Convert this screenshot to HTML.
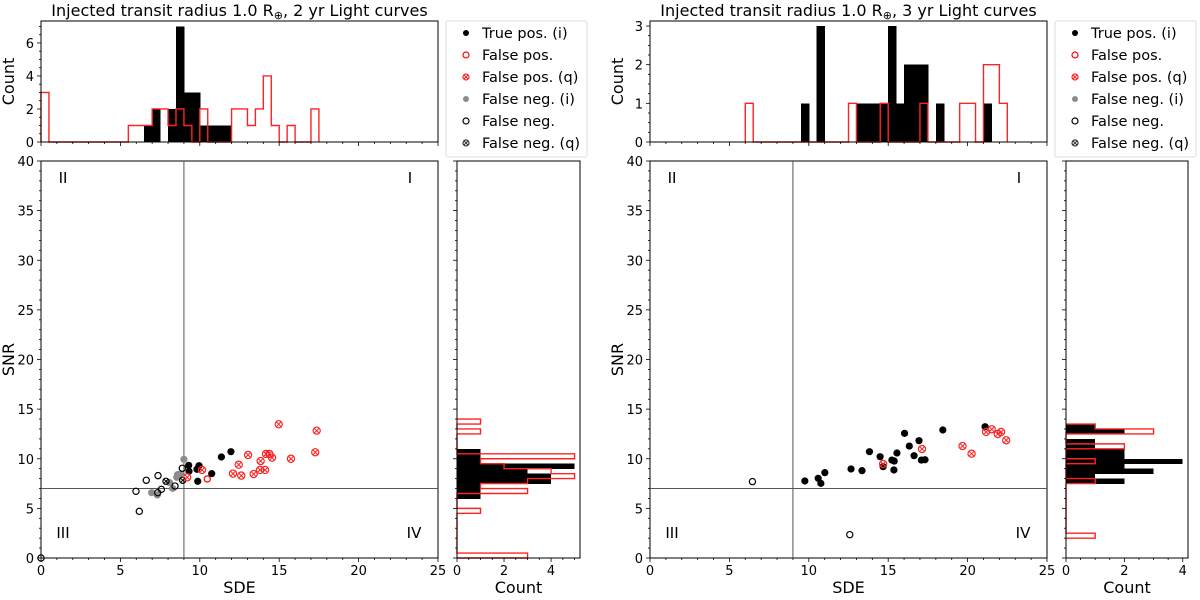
<!DOCTYPE html>
<html><head><meta charset="utf-8">
<style>
body{margin:0;background:#fff;}
svg text{font-family:"DejaVu Sans","Liberation Sans",sans-serif;fill:#000;}
</style></head>
<body>
<svg id="chart" width="1200" height="595" viewBox="0 0 1200 595" xmlns="http://www.w3.org/2000/svg"></svg>
<script>
// ---------- DATA ----------
const BIN = 0.5;
// Left panel (2 yr)
const L_topRedStart = 0;
const L_topRedCounts = [3,0,0,0,0,0,0,0,0,0,0,1,1,1,2,2,1,2,1,0,2,0,0,0,2,2,1,2,4,1,0,1,0,0,2];
const L_topBlackStart = 6.5;
const L_topBlackCounts = [1,2,0,2,7,3,3,1,1,1,1];
const L_sideRedStart = 0;
const L_sideRedCounts = [3,0,0,0,0,0,0,0,0,1,0,0,0,3,1,3,5,4,2,1,5,0,0,0,0,1,0,1];
const L_sideBlackStart = 6.0;
const L_sideBlackCounts = [1,1,1,4,4,3,5,1,1,1];
const L_truePosSDE = [11.96,11.36,9.30,9.95,9.82,9.32,10.75,9.87];
const L_truePosSNR = [10.71,10.18,9.34,9.30,8.94,8.74,8.50,7.73];
const L_falsePosSDE = [10.47];
const L_falsePosSNR = [7.96];
const L_falsePosQSDE = [14.97,17.36,17.27,13.04,14.17,14.38,14.55,13.83,15.74,12.45,10.14,9.21,12.09,12.61,13.39,13.79,14.11];
const L_falsePosQSNR = [13.47,12.83,10.65,10.38,10.48,10.48,10.11,9.77,10.00,9.40,8.87,8.13,8.50,8.30,8.46,8.87,8.87];
const L_falseNegISDE = [9.00,8.75,8.55,8.29,6.97,7.32,8.60,8.10];
const L_falseNegISNR = [9.94,8.46,8.13,7.02,6.58,6.35,8.40,7.60];
const L_falseNegSDE = [5.98,6.19,6.63,7.37,7.35,7.58,8.44,8.90,0.0];
const L_falseNegSNR = [6.72,4.70,7.83,8.30,6.58,6.92,7.25,9.04,0.0];
const L_falseNegQSDE = [7.87,8.92];
const L_falseNegQSNR = [7.73,7.83];
// Right panel (3 yr)
const R_topRedStart = 6.0;
const R_topRedCounts = [1,0,0,0,0,0,0,0,0,0,0,0,0,1,0,0,0,1,0,0,0,0,1,0,0,0,0,1,1,0,2,2,1];
const R_topBlackStart = 9.5;
const R_topBlackCounts = [1,0,3,0,0,0,0,1,1,1,1,3,1,2,2,2,0,1,0,0,0,0,0,1];
const R_sideRedStart = 2.0;
const R_sideRedCounts = [1,0,0,0,0,0,0,0,0,0,0,1,0,0,0,1,0,0,2,0,0,3,1];
const R_sideBlackStart = 7.5;
const R_sideBlackCounts = [2,1,3,2,4,2,2,1,1,0,2,1];
const R_truePosSDE = [9.75,10.59,10.76,11.01,12.66,13.35,13.82,14.49,14.68,15.23,15.38,15.36,15.55,16.03,16.33,16.63,16.94,17.09,17.32,18.44,21.10];
const R_truePosSNR = [7.76,8.03,7.52,8.60,8.97,8.80,10.71,10.21,9.20,9.87,9.77,8.87,10.58,12.56,11.28,10.31,11.82,9.87,9.90,12.90,13.23];
const R_falsePosQSDE = [14.68,17.13,19.68,20.25,21.16,21.52,21.90,22.11,22.43];
const R_falsePosQSNR = [9.47,10.98,11.28,10.51,12.70,12.97,12.49,12.70,11.86];
const R_falseNegSDE = [6.45,12.58];
const R_falseNegSNR = [7.70,2.35];

const legendLabels = ["True pos. (i)","False pos.","False pos. (q)","False neg. (i)","False neg.","False neg. (q)"];

// ---------- DRAWING ----------
const svg = document.getElementById('chart');
const NS = 'http://www.w3.org/2000/svg';
function mk(tag, attrs, parent){
  const e = document.createElementNS(NS, tag);
  for (const k in attrs) e.setAttribute(k, attrs[k]);
  (parent||svg).appendChild(e);
  return e;
}
function txt(x,y,s,size,anchor,parent,rot){
  const t = mk('text',{x:x,y:y,'font-size':size,'text-anchor':anchor||'middle'},parent);
  if(rot) t.setAttribute('transform','rotate(-90 '+x+' '+y+')');
  t.textContent = s;
  return t;
}
function linear(d0,d1,r0,r1){return v=>r0+(v-d0)*(r1-r0)/(d1-d0);}

function crossMarker(g,x,y,r,color){
  mk('circle',{cx:x,cy:y,r:r,fill:'none',stroke:color,'stroke-width':1.2},g);
  const d=r*0.7;
  mk('path',{d:`M${x-d} ${y-d}L${x+d} ${y+d}M${x-d} ${y+d}L${x+d} ${y-d}`,stroke:color,'stroke-width':1},g);
}

function stepPathH(start,counts,sx,sy){
  let d=`M${sx(start)} ${sy(0)}`;
  counts.forEach((c,i)=>{const a=start+i*BIN,b=a+BIN; d+=`L${sx(a)} ${sy(c)}L${sx(b)} ${sy(c)}`;});
  d+=`L${sx(start+counts.length*BIN)} ${sy(0)}`;
  return d;
}
function stepPathV(start,counts,sx,sy){
  let d=`M${sx(0)} ${sy(start)}`;
  counts.forEach((c,i)=>{const a=start+i*BIN,b=a+BIN; d+=`L${sx(c)} ${sy(a)}L${sx(c)} ${sy(b)}`;});
  d+=`L${sx(0)} ${sy(start+counts.length*BIN)}`;
  return d;
}

function panel(P){
  const g = mk('g',{});
  
  
  const {X0,X1,TT,TB,ST,SB,HX0,HX1} = P;
  const sx = linear(0,25,X0,X1), sy = linear(0,40,SB,ST);
  const ty = linear(0,P.topMax,TB,TT);
  const hx = linear(0,P.sideMax,HX0,HX1);

  const title = txt((X0+X1)/2,16,'',16,'middle',g);
  title.innerHTML = 'Injected transit radius 1.0 R<tspan font-size="11" dy="3">⊕</tspan><tspan dy="-3">, '+P.yr+' yr Light curves</tspan>';
  
  

  // ---- top histogram ----
  const gt = mk('g',{},g);
  
  
  P.topBlackCounts.forEach((c,i)=>{
    if(!c) return;
    const a=P.topBlackStart+i*BIN;
    const r=mk('rect',{x:sx(a),y:ty(c),width:sx(a+BIN)-sx(a)+0.5,height:ty(0)-ty(c),fill:'#000','shape-rendering':'crispEdges'},gt);
    
    
  });
  const rp=mk('path',{d:stepPathH(P.topRedStart,P.topRedCounts,sx,ty),fill:'none',stroke:'#f22','stroke-width':1.4},gt);
  
  
  mk('rect',{x:X0,y:TT,width:X1-X0,height:TB-TT,fill:'none',stroke:'#000','stroke-width':1},gt);
  for(let v=0;v<=25;v+=1){const x=sx(v);mk('line',{x1:x,x2:x,y1:TB,y2:TB+(v%5?2:4),stroke:'#000','stroke-width':0.8},gt);}
  for(let v=0;v<=P.topMax+1e-9;v+=P.topMinor){
    const major=Math.abs(v/P.topMajor-Math.round(v/P.topMajor))<1e-6;
    const y=ty(v);mk('line',{x1:X0,x2:X0-(major?4:2),y1:y,y2:y,stroke:'#000','stroke-width':0.8},gt);
    if(major) txt(X0-7,y+5,String(Math.round(v)),13,'end',gt);
  }
  const ct=txt(X0-27,(TT+TB)/2,'Count',16,'middle',g,true);
  
  

  // ---- scatter ----
  const gs = mk('g',{},g);
  
  
  mk('rect',{x:X0,y:ST,width:X1-X0,height:SB-ST,fill:'none',stroke:'#000','stroke-width':1},gs);
  mk('line',{x1:sx(9),x2:sx(9),y1:ST,y2:SB,stroke:'#555','stroke-width':1},gs);
  mk('line',{x1:X0,x2:X1,y1:sy(7),y2:sy(7),stroke:'#555','stroke-width':1},gs);
  for(let v=0;v<=25;v+=1){const x=sx(v);mk('line',{x1:x,x2:x,y1:SB,y2:SB+(v%5?2:4),stroke:'#000','stroke-width':0.8},gs); if(v%5==0) txt(x,SB+17,String(v),13,'middle',gs);}
  for(let v=0;v<=40;v+=1){const y=sy(v);mk('line',{x1:X0,x2:X0-(v%5?2:4),y1:y,y2:y,stroke:'#000','stroke-width':0.8},gs); if(v%5==0) txt(X0-7,y+5,String(v),13,'end',gs);}
  [['II',X0+22,ST+22],['I',X1-28,ST+22],['III',X0+22,SB-20],['IV',X1-24,SB-20]].forEach(q=>{
    const t=txt(q[1],q[2],q[0],15,'middle',gs);
    
    
  });
  const r=P.r;
  P.fnISDE.forEach((v,i)=>{const c=mk('circle',{cx:sx(v),cy:sy(P.fnISNR[i]),r:r,fill:'#8c8c8c'},gs);
    });
  P.fnSDE.forEach((v,i)=>{const c=mk('circle',{cx:sx(v),cy:sy(P.fnSNR[i]),r:r-0.5,fill:'none',stroke:'#000','stroke-width':1.2},gs);
    });
  P.fnQSDE.forEach((v,i)=>{crossMarker(gs,sx(v),sy(P.fnQSNR[i]),r-0.5,'#000');});
  P.tpSDE.forEach((v,i)=>{const c=mk('circle',{cx:sx(v),cy:sy(P.tpSNR[i]),r:r,fill:'#000'},gs);
    });
  P.fpSDE.forEach((v,i)=>{const c=mk('circle',{cx:sx(v),cy:sy(P.fpSNR[i]),r:r-0.5,fill:'none',stroke:'#f00','stroke-width':1.2},gs);
    });
  P.fpQSDE.forEach((v,i)=>{crossMarker(gs,sx(v),sy(P.fpQSNR[i]),r,'#f22');});
  const xl=txt((X0+X1)/2,SB+35,'SDE',16,'middle',g);
  
  const yl=txt(X0-27,(ST+SB)/2,'SNR',16,'middle',g,true);
  

  // ---- side histogram ----
  const gh = mk('g',{},g);
  
  
  P.sideBlackCounts.forEach((c,i)=>{
    if(!c) return;
    const a=P.sideBlackStart+i*BIN;
    const rr=mk('rect',{x:hx(0),y:sy(a+BIN),width:hx(c)-hx(0),height:sy(a)-sy(a+BIN)+0.5,fill:'#000','shape-rendering':'crispEdges'},gh);
    
    
  });
  const sp=mk('path',{d:stepPathV(P.sideRedStart,P.sideRedCounts,hx,sy),fill:'none',stroke:'#f22','stroke-width':1.4},gh);
  
  
  mk('rect',{x:HX0,y:ST,width:HX1-HX0,height:SB-ST,fill:'none',stroke:'#000','stroke-width':1},gh);
  for(let v=0;v<=P.sideMax;v+=0.5){const x=hx(v);const major=(v%2===0);mk('line',{x1:x,x2:x,y1:SB,y2:SB+(major?4:2),stroke:'#000','stroke-width':0.8},gh); if(major) txt(x,SB+17,String(v),13,'middle',gh);}
  for(let v=0;v<=40;v+=1){const y=sy(v);mk('line',{x1:HX0,x2:HX0-(v%5?2:4),y1:y,y2:y,stroke:'#000','stroke-width':0.8},gh);}
  const hl=txt((HX0+HX1)/2,SB+35,'Count',16,'middle',g);
  

  // ---- legend ----
  const gl = mk('g',{},g);
  
  
  mk('rect',{x:P.LX,y:21,width:141,height:136,rx:2,fill:'#fff',stroke:'#ddd','stroke-width':1},gl);
  legendLabels.forEach((lab,i)=>{
    const y=33+i*22, mx=P.LX+20;
    const e=mk('g',{},gl);
    
    
    if(i===0) mk('circle',{cx:mx,cy:y,r:3,fill:'#000'},e);
    if(i===1) mk('circle',{cx:mx,cy:y,r:3,fill:'none',stroke:'#f00','stroke-width':1.2},e);
    if(i===2) crossMarker(e,mx,y,3,'#f22');
    if(i===3) mk('circle',{cx:mx,cy:y,r:3,fill:'#8c8c8c'},e);
    if(i===4) mk('circle',{cx:mx,cy:y,r:3,fill:'none',stroke:'#000','stroke-width':1.2},e);
    if(i===5) crossMarker(e,mx,y,3,'#333');
    txt(P.LX+36,y+5,lab,14.5,'start',e);
  });
}

panel({name:'panel-2yr',yr:2,X0:41,X1:438,TT:21,TB:142,ST:161,SB:558,HX0:457,HX1:580,
  topMax:7.33,topMajor:2,topMinor:0.5,sideMax:5.23,LX:446,r:3.6,
  topRedStart:L_topRedStart,topRedCounts:L_topRedCounts,topBlackStart:L_topBlackStart,topBlackCounts:L_topBlackCounts,
  sideRedStart:L_sideRedStart,sideRedCounts:L_sideRedCounts,sideBlackStart:L_sideBlackStart,sideBlackCounts:L_sideBlackCounts,
  tpSDE:L_truePosSDE,tpSNR:L_truePosSNR,fpSDE:L_falsePosSDE,fpSNR:L_falsePosSNR,fpQSDE:L_falsePosQSDE,fpQSNR:L_falsePosQSNR,
  fnISDE:L_falseNegISDE,fnISNR:L_falseNegISNR,fnSDE:L_falseNegSDE,fnSNR:L_falseNegSNR,fnQSDE:L_falseNegQSDE,fnQSNR:L_falseNegQSNR});

panel({name:'panel-3yr',yr:3,X0:650,X1:1047,TT:21,TB:142,ST:161,SB:558,HX0:1066,HX1:1188,
  topMax:3.13,topMajor:1,topMinor:0.25,sideMax:4.18,LX:1055,r:3.6,
  topRedStart:R_topRedStart,topRedCounts:R_topRedCounts,topBlackStart:R_topBlackStart,topBlackCounts:R_topBlackCounts,
  sideRedStart:R_sideRedStart,sideRedCounts:R_sideRedCounts,sideBlackStart:R_sideBlackStart,sideBlackCounts:R_sideBlackCounts,
  tpSDE:R_truePosSDE,tpSNR:R_truePosSNR,fpSDE:[],fpSNR:[],fpQSDE:R_falsePosQSDE,fpQSNR:R_falsePosQSNR,
  fnISDE:[],fnISNR:[],fnSDE:R_falseNegSDE,fnSNR:R_falseNegSNR,fnQSDE:[],fnQSNR:[]});
</script>
</body></html>
